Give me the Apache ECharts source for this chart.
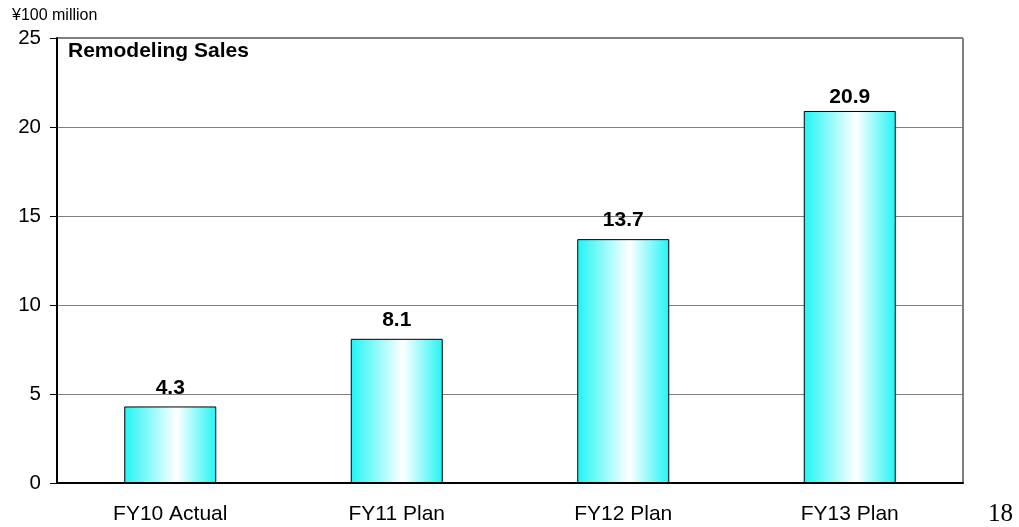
<!DOCTYPE html>
<html>
<head>
<meta charset="utf-8">
<script src="https://cdn.jsdelivr.net/npm/echarts@6/dist/echarts.min.js"></script>
<style>html,body{margin:0;padding:0;background:#fff;}#c{width:1019px;height:527px;}</style>
</head>
<body>
<div id="c"></div>
<script>
const categories = ['FY10 Actual', 'FY11 Plan', 'FY12 Plan', 'FY13 Plan'];
const salesValues = [4.3, 8.1, 13.7, 20.9];
const yTicks = [0, 5, 10, 15, 20, 25];

const chart = echarts.init(document.getElementById('c'));
const barGrad = new echarts.graphic.LinearGradient(0, 0, 1, 0, [
  {offset: 0, color: '#22f4f4'},
  {offset: 0.57, color: '#ffffff'},
  {offset: 1, color: '#22f4f4'}
]);
const seriesData = salesValues.map((v, i) => i === salesValues.length - 1
  ? {value: v, label: {distance: 3}}
  : {value: v});
chart.setOption({
  animation: false,
  backgroundColor: '#fff',
  grid: {left: 57, right: 56, top: 38, bottom: 44, show: true, borderColor: '#000', borderWidth: 1},
  graphic: [
    {type: 'text', left: 12, top: 8, style: {text: '¥100 million', font: '16px Arial, "Liberation Sans"', fill: '#000'}},
    {type: 'text', left: 68, top: 41, style: {text: 'Remodeling Sales', font: 'bold 21px Arial, "Liberation Sans"', fill: '#000'}},
    {type: 'text', left: 988, top: 502, style: {text: '18', font: '25px "Liberation Serif", "Times New Roman", serif', fill: '#000'}}
  ],
  xAxis: {
    type: 'category',
    data: categories,
    axisLine: {lineStyle: {color: '#000', width: 2}},
    axisTick: {inside: true, length: 6, lineStyle: {color: '#000', width: 1}},
    axisLabel: {color: '#000', fontSize: 21, fontFamily: 'Arial, "Liberation Sans"', margin: 21}
  },
  yAxis: {
    type: 'value',
    min: yTicks[0], max: yTicks[yTicks.length - 1], interval: 5,
    axisLine: {show: true, lineStyle: {color: '#000', width: 2}},
    axisTick: {show: true, length: 7, lineStyle: {color: '#000'}},
    axisLabel: {color: '#000', fontSize: 20.5, fontFamily: 'Arial, "Liberation Sans"', margin: 16},
    splitLine: {lineStyle: {color: '#808080', width: 1}}
  },
  series: [{
    type: 'bar',
    data: seriesData,
    barWidth: 92,
    itemStyle: {color: barGrad, borderColor: '#000', borderWidth: 1},
    label: {show: true, position: 'top', distance: 8, formatter: p => p.value.toFixed(1), color: '#000', fontWeight: 'bold', fontSize: 21, fontFamily: 'Arial, "Liberation Sans"'}
  }]
});
</script>
</body>
</html>
